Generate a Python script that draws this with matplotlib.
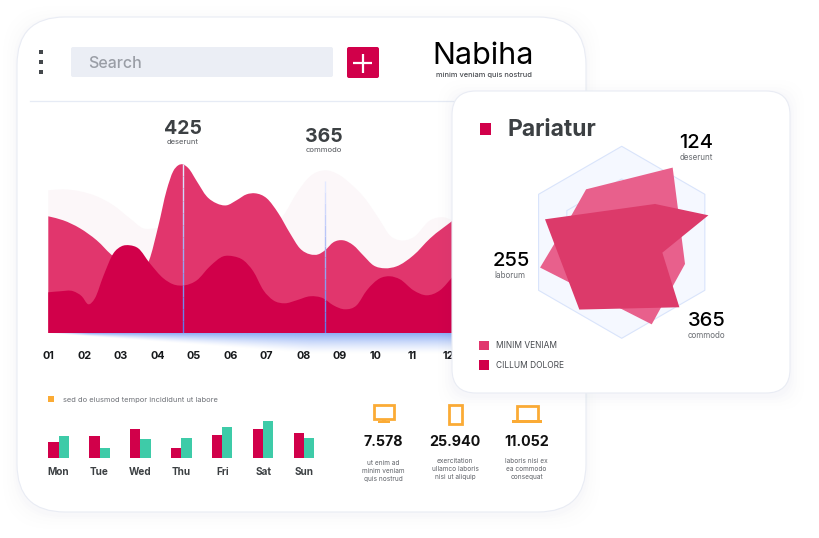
import numpy as np
from matplotlib import pyplot as plt
from matplotlib.colors import to_rgb
from matplotlib.patches import FancyBboxPatch, Rectangle, PathPatch
from matplotlib.path import Path

plt.rcParams['font.family'] = ['Inter', 'DejaVu Sans']

W, H = 820, 538
DARK = '#d1004a'
PINK = '#e1366d'
PALE = '#fcf7f9'
TEAL = '#3ecba8'
ORANGE = '#fbab35'
INK = '#3c4043'

# area chart (month position, height)
months = ['01', '02', '03', '04', '05', '06', '07', '08', '09', '10', '11', '12']
pale_x = [1.00, 1.41, 1.87, 2.33, 2.79, 3.24, 3.61, 3.93, 4.34, 5.08, 5.99, 6.91, 7.27, 7.46, 7.82, 8.19,
          8.60, 9.01, 9.38, 9.65, 10.11, 10.38, 10.66, 11.03, 11.49, 11.85, 12.12]
pale_y = [143, 144, 142, 137, 128, 115, 105, 105, 107, 97, 93, 98, 110, 118, 140, 157,
          163, 158, 147, 137, 113, 98, 93, 96, 113, 116, 113]
pink_x = [1.00, 1.41, 1.87, 2.33, 2.79, 3.24, 3.77, 4.02, 4.25, 4.43, 4.57, 4.69, 4.85, 5.08, 5.35, 5.62,
          5.90, 6.17, 6.45, 6.68, 7.00, 7.32, 7.64, 7.91, 8.19, 8.42, 8.60, 8.83, 9.10, 9.38, 9.65, 9.93,
          10.25, 10.57, 11.03, 11.49, 12.12]
pink_y = [117, 113, 105, 93, 77, 70, 73, 107, 143, 162, 168, 169, 165, 152, 137, 130,
          128, 133, 139, 140, 135, 120, 100, 85, 79, 79, 83, 91, 93, 88, 78, 68,
          65, 67, 78, 95, 113]
dark_x = [1.00, 1.32, 1.69, 1.92, 2.10, 2.28, 2.51, 2.79, 3.01, 3.24, 3.47, 3.79, 4.16, 4.43, 4.75, 5.08,
          5.44, 5.81, 6.08, 6.36, 6.63, 6.91, 7.18, 7.50, 7.82, 8.19, 8.55, 8.83, 9.15, 9.47, 9.75, 10.11,
          10.39, 10.66, 11.03, 11.39, 11.76, 12.12]
dark_y = [41, 42, 42, 37, 29, 35, 57, 80, 87, 88, 85, 70, 55, 49, 48, 53,
          67, 77, 77, 73, 62, 43, 33, 30, 33, 37, 35, 28, 24, 28, 43, 55,
          57, 54, 43, 38, 43, 57]
marker_x = [4.71, 8.59]
marker_top = [169, 152]

# weekly bars
days = ['Mon', 'Tue', 'Wed', 'Thu', 'Fri', 'Sat', 'Sun']
red_bars = [16, 22, 29, 10, 23, 29, 25]
teal_bars = [22, 10, 19, 20, 31, 37, 20]

# radar, angles in degrees and radius in percent of the outer hexagon
hex_angles = [90, 30, -30, -90, -150, 150]
hex_outer = [100, 100, 100, 100, 100, 100]
hex_inner = [66, 66, 66, 66, 66, 66]
minim_angles = [123.9, 55.7, -18.9, -69.9, 197.2, 151.3]
minim_r = [66.5, 94.2, 69.7, 91.0, 89.0, 59.4]
cillum_angles = [163.3, 49.0, 17.3, -14.3, -48.4, 237.8]
cillum_r = [83.4, 52.9, 94.6, 43.7, 90.5, 82.8]

# device stats
stat_values = ['7.578', '25.940', '11.052']
stat_notes = ['ut enim ad\nminim veniam\nquis nostrud',
              'exercitation\nullamco laboris\nnisi ut aliquip',
              'laboris nisi ex\nea commodo\nconsequat']


def px_axes(fig, left, top, right, bottom, **kwargs):
    # axes placed by picture pixels, y counted from the top
    return fig.add_axes([left / W, 1 - bottom / H, (right - left) / W, (bottom - top) / H], **kwargs)


def smooth_area(x, y):
    # bezier outline through the read points, closed along the baseline
    x = np.asarray(x, dtype=float)
    y = np.asarray(y, dtype=float)
    slope = np.gradient(y, x)
    verts = [(x[0], 0), (x[0], y[0])]
    codes = [Path.MOVETO, Path.LINETO]
    for i in range(len(x) - 1):
        step = (x[i + 1] - x[i]) / 3
        verts += [(x[i] + step, y[i] + slope[i] * step),
                  (x[i + 1] - step, y[i + 1] - slope[i + 1] * step),
                  (x[i + 1], y[i + 1])]
        codes += [Path.CURVE4] * 3
    verts += [(x[-1], 0), (x[0], 0)]
    codes += [Path.LINETO, Path.CLOSEPOLY]
    return Path(verts, codes)


def card(ax, left, top, right, bottom, radius, zorder, shadow=1.0):
    # soft shadow first, then the white card
    for grow, alpha in [(14, 0.004), (10, 0.005), (7, 0.006), (4, 0.008), (2, 0.012)]:
        ax.add_patch(FancyBboxPatch((left - grow + radius, top - grow + 3 + radius),
                                    right - left + 2 * grow - 2 * radius, bottom - top + 2 * grow - 2 * radius,
                                    boxstyle=f'round,pad={radius},rounding_size={radius}',
                                    fc='#6a7aa8', ec='none', alpha=alpha * shadow, zorder=zorder))
    ax.add_patch(FancyBboxPatch((left + radius, top + radius), right - left - 2 * radius, bottom - top - 2 * radius,
                                boxstyle=f'round,pad={radius},rounding_size={radius}',
                                fc='white', ec='#e9ecf4', lw=0.8, zorder=zorder + 0.1))


fig = plt.figure(figsize=(W / 100, H / 100), dpi=100)

back = px_axes(fig, 0, 0, W, H, zorder=0)
back.set_xlim(0, W)
back.set_ylim(H, 0)
back.axis('off')
card(back, 17, 17, 586, 512, 48, 1, shadow=0.8)

# header
for y in [52, 62, 72]:
    back.add_patch(Rectangle((39.5, y - 1.7), 3.4, 3.4, fc='#44484c', ec='none', zorder=2))
back.add_patch(FancyBboxPatch((72, 48), 260, 28, boxstyle='round,pad=1,rounding_size=2', fc='#ebeef5', ec='none', zorder=2))
back.text(88.5, 64, 'Search', fontsize=11.5, color='#9a9ea6', weight='medium', va='center', zorder=3)
back.add_patch(FancyBboxPatch((348, 48), 30, 29, boxstyle='round,pad=1,rounding_size=2', fc=DARK, ec='none', zorder=2))
back.plot([353.5, 372.5], [63, 63], color='white', lw=1.6, zorder=3, solid_capstyle='butt')
back.plot([363, 363], [53.5, 72.5], color='white', lw=1.6, zorder=3, solid_capstyle='butt')
back.text(483, 56, 'Nabiha', fontsize=22, color='black', ha='center', va='center', zorder=3)
back.text(484, 75.5, 'minim veniam quis nostrud', fontsize=5.4, color='#4a4d52', weight='medium', ha='center', va='center', zorder=3)
back.plot([30, 458], [100.5, 100.5], color='#e6ebf5', lw=0.9, zorder=2)

# chart captions
back.text(182.5, 129.5, '425', fontsize=14, color=INK, weight='bold', ha='center', va='center', zorder=3)
back.text(182.5, 142.5, 'deserunt', fontsize=5.5, color='#55585d', ha='center', va='center', zorder=3)
back.text(323.5, 137.5, '365', fontsize=14, color=INK, weight='bold', ha='center', va='center', zorder=3)
back.text(323.5, 150.5, 'commodo', fontsize=5.5, color='#55585d', ha='center', va='center', zorder=3)

# blue fade under the area chart, it opens up from the left end
rows, cols = np.mgrid[0:1:60j, 0:1:300j]
reach = np.clip(cols / 0.65, 0.02, 1)
fade = np.ones((60, 300, 4))
fade[..., :3] = to_rgb('#8eaef5')
fade[..., 3] = np.clip(1 - rows / reach, 0, 1) ** 1.4 * np.clip(cols / 0.1, 0, 1)
back.imshow(fade, extent=(48, 453, 354, 333.5), aspect='auto', zorder=2, interpolation='bilinear')
back.set_xlim(0, W)
back.set_ylim(H, 0)

# area chart
area = px_axes(fig, 48.3, 158.3, 453.3, 333.3, zorder=1)
area.patch.set_alpha(0)
area.set_xlim(1, 12.125)
area.set_ylim(0, 175)
area.add_patch(PathPatch(smooth_area(pale_x, pale_y), fc=PALE, ec='none'))
area.add_patch(PathPatch(smooth_area(pink_x, pink_y), fc=PINK, ec='none'))
area.add_patch(PathPatch(smooth_area(dark_x, dark_y), fc=DARK, ec='none'))
low_blue = np.array(to_rgb('#5f78e8'))
high_blue = np.array(to_rgb('#e3e9ff'))
for x, top in zip(marker_x, marker_top):
    steps = np.linspace(0, top, 15)
    for i in range(14):
        mix = i / 13
        area.vlines(x, steps[i], steps[i + 1], color=low_blue * (1 - mix) + high_blue * mix, lw=1.0)
for side in area.spines.values():
    side.set_visible(False)
area.set_xticks(range(1, 13), months)
area.set_yticks([])
area.tick_params(axis='x', length=0, pad=12.5, labelsize=7.8, labelcolor='#17191c')
for label in area.get_xticklabels():
    label.set_fontweight('bold')
    label.set_clip_on(False)

# weekly bars
back.add_patch(Rectangle((48, 396), 6, 6, fc=ORANGE, ec='none', zorder=2))
back.text(63.5, 400, 'sed do eiusmod tempor incididunt ut labore', fontsize=5.4, color='#6f7278', va='center', zorder=3)
bars = px_axes(fig, 38.2, 418.3, 324.5, 458.3, zorder=1)
bars.patch.set_alpha(0)
pos = np.arange(len(days))
bars.bar(pos - 0.125, red_bars, 0.25, color=DARK)
bars.bar(pos + 0.125, teal_bars, 0.25, color=TEAL)
bars.set_xlim(-0.5, 6.5)
bars.set_ylim(0, 40)
for side in bars.spines.values():
    side.set_visible(False)
bars.set_xticks(pos, days)
bars.set_yticks([])
bars.tick_params(axis='x', length=0, pad=6.5, labelsize=7.2, labelcolor=INK)
for label in bars.get_xticklabels():
    label.set_fontweight('bold')

# device icons
back.add_patch(Rectangle((374, 405), 20, 13.5, fc='none', ec=ORANGE, lw=2, zorder=3))
back.add_patch(Rectangle((382, 419), 4, 2, fc=ORANGE, ec='none', zorder=3))
back.add_patch(Rectangle((378.5, 421), 11.5, 2, fc=ORANGE, ec='none', zorder=3))
back.add_patch(Rectangle((448.8, 404.5), 13.5, 19, fc='none', ec=ORANGE, lw=2, zorder=3))
back.add_patch(Rectangle((517.5, 405.5), 20.5, 15, fc='none', ec=ORANGE, lw=2, zorder=3))
back.add_patch(Rectangle((512.5, 420), 29.5, 3, fc=ORANGE, ec='none', zorder=3))

for x, value, note, note_y in zip([383.5, 455, 526.5], stat_values, stat_notes, [471, 469, 469]):
    back.text(x, 442.5, value, fontsize=10.3, color='#111', weight='bold', ha='center', va='center', zorder=3)
    back.text(x, note_y, note, fontsize=4.7, color='#5f6268', ha='center', va='center', linespacing=1.45, zorder=3)

# radar card
front = px_axes(fig, 0, 0, W, H, zorder=2)
front.patch.set_alpha(0)
front.set_xlim(0, W)
front.set_ylim(H, 0)
front.axis('off')
card(front, 452, 91, 790, 393, 24, 1)
front.add_patch(Rectangle((480, 123), 11.5, 12, fc=DARK, ec='none', zorder=3))
front.text(507.5, 129.5, 'Pariatur', fontsize=16.5, color=INK, weight='bold', va='center', zorder=3)
front.text(679, 143, '124', fontsize=14.5, color='black', weight='medium', va='center', zorder=3)
front.text(679.5, 157.5, 'deserunt', fontsize=5.8, color='#6a6d72', va='center', zorder=3)
front.text(493, 261.5, '255', fontsize=14.5, color='black', weight='medium', va='center', zorder=3)
front.text(494, 275.5, 'laborum', fontsize=5.8, color='#6a6d72', va='center', zorder=3)
front.text(688, 321.5, '365', fontsize=14.5, color='black', weight='medium', va='center', zorder=3)
front.text(688, 335, 'commodo', fontsize=5.8, color='#6a6d72', va='center', zorder=3)
front.add_patch(Rectangle((479, 340.5), 10, 9.5, fc=PINK, ec='none', zorder=3))
front.add_patch(Rectangle((479, 360), 10, 9.5, fc=DARK, ec='none', zorder=3))
front.text(496.5, 345.5, 'MINIM VENIAM', fontsize=6, color='#45484d', va='center', zorder=3)
front.text(496.5, 365, 'CILLUM DOLORE', fontsize=6, color='#45484d', va='center', zorder=3)

radar = px_axes(fig, 621.7 - 96, 242.3 - 96, 621.7 + 96, 242.3 + 96, projection='polar', zorder=3)
radar.patch.set_alpha(0)
radar.set_ylim(0, 100)
radar.axis('off')
radar.fill(np.radians(hex_angles), hex_outer, fc='#f5f8ff', ec='#d9e4fb', lw=0.8, clip_on=False)
radar.fill(np.radians(hex_angles), hex_inner, fc='#f5f8ff', ec='#d9e4fb', lw=0.8, clip_on=False)
radar.fill(np.radians(minim_angles), minim_r, fc='#e8608c', ec='none', clip_on=False)
radar.fill(np.radians(cillum_angles), cillum_r, fc='#dc3a6a', ec='none', clip_on=False)

fig.savefig('out.png', dpi=100)
